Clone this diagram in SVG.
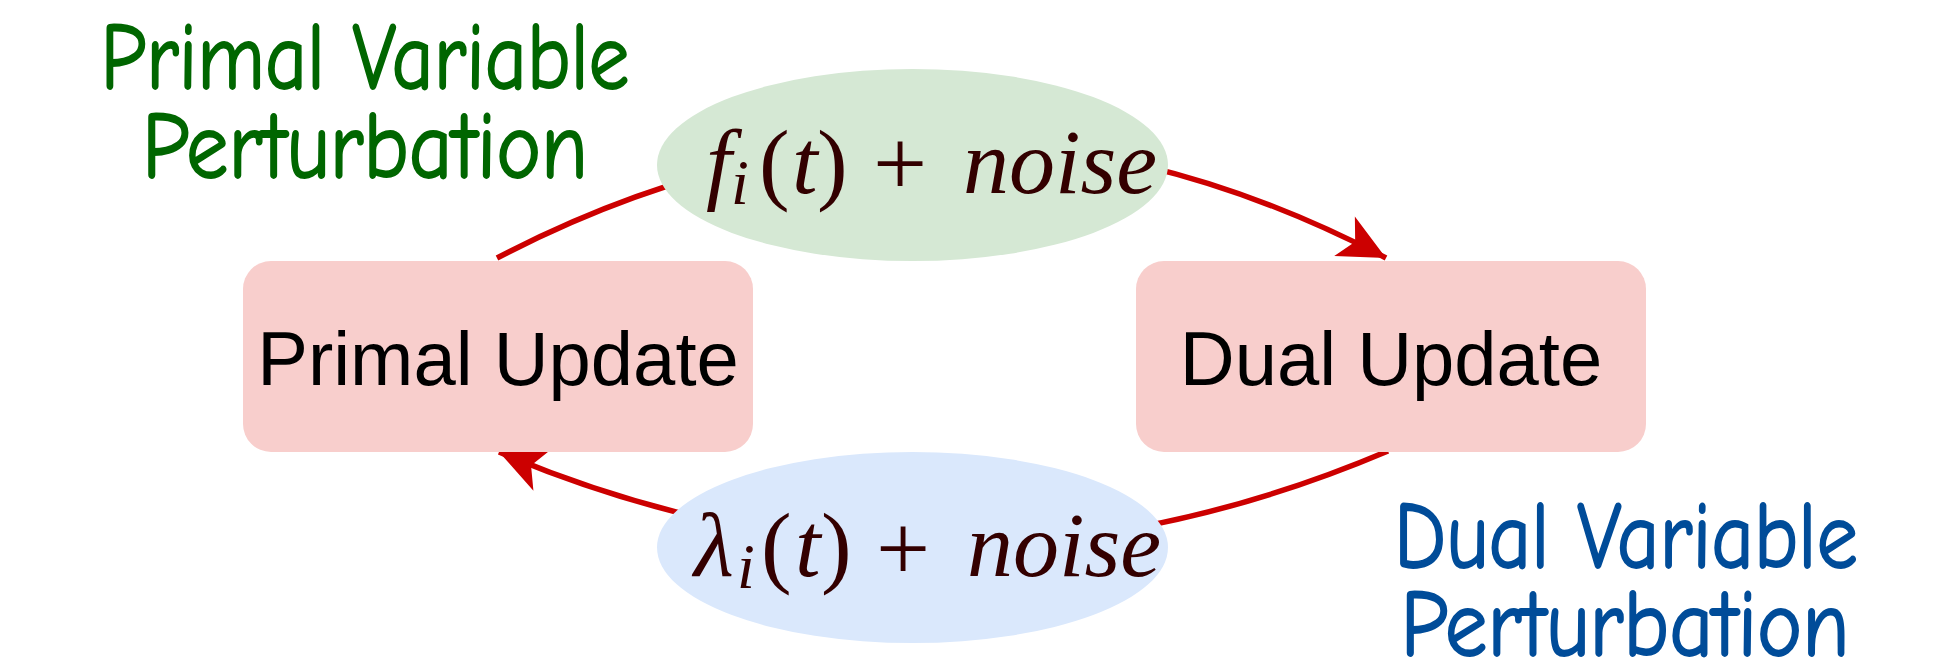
<svg xmlns="http://www.w3.org/2000/svg" width="1943" height="667" viewBox="0 0 1943 667">
<style>
.box{fill:#F8CECC;}
.lbl{font-family:"Liberation Sans",Arial,Helvetica,sans-serif;font-size:76px;fill:#000;text-anchor:middle;}
.math{font-family:"Liberation Serif","Times New Roman",serif;font-size:92px;fill:#330000;}
.it{font-style:italic;}
.sub{font-style:italic;font-size:64px;}
.plus{font-size:96px;}
.edge{fill:none;stroke:#CC0000;stroke-width:5.5;}
.hand{font-family:"Comic Sans MS","Comic Neue","DejaVu Sans Condensed","DejaVu Sans",sans-serif;font-size:96px;text-anchor:middle;stroke-width:1.8;}
</style>
<defs>
<marker id="arr" markerUnits="userSpaceOnUse" markerWidth="60" markerHeight="60" viewBox="-40 -25 45 50" refX="0" refY="0" orient="auto">
<path d="M0,0 L-39,-18.5 L-29,0 L-39,18.5 Z" fill="#CC0000"/>
</marker>
</defs>
<g id="connectors">
<path class="edge" d="M497,258 Q942.5,25.5 1386,258" marker-end="url(#arr)"/>
<path class="edge" d="M1388,451 Q942.5,640 499,452" marker-end="url(#arr)"/>
</g>
<g id="primal-update">
<rect class="box" x="243" y="261" width="510" height="191" rx="28" ry="28"/>
<text class="lbl" x="498" y="385">Primal Update</text>
</g>
<g id="dual-update">
<rect class="box" x="1136" y="261" width="510" height="191" rx="28" ry="28"/>
<text class="lbl" x="1391" y="385">Dual Update</text>
</g>
<g id="primal-noise">
<ellipse cx="912.5" cy="165" rx="255.5" ry="96" fill="#D5E8D4"/>
<text class="math"><tspan class="it" x="706" y="193">f</tspan><tspan class="sub" x="731" y="204">i</tspan><tspan x="759" y="193">(</tspan><tspan class="it" x="792" y="193">t</tspan><tspan x="817" y="193">)</tspan><tspan class="plus" x="873" y="195">+</tspan><tspan class="it" x="963" y="193">noise</tspan></text>
</g>
<g id="dual-noise">
<ellipse cx="912.5" cy="547.5" rx="255.5" ry="95.5" fill="#DAE8FC"/>
<text class="math"><tspan class="it" x="694" y="576">λ</tspan><tspan class="sub" x="737" y="588">i</tspan><tspan x="761" y="576">(</tspan><tspan class="it" x="795" y="576">t</tspan><tspan x="821" y="576">)</tspan><tspan class="plus" x="876" y="580">+</tspan><tspan class="it" x="967" y="576">noise</tspan></text>
</g>
<g id="primal-perturbation-label">
<text class="hand" fill="#006600" stroke="#006600"><tspan x="365" y="89" textLength="529" lengthAdjust="spacingAndGlyphs">Primal Variable</tspan><tspan x="365" y="178" textLength="446" lengthAdjust="spacingAndGlyphs">Perturbation</tspan></text>
</g>
<g id="dual-perturbation-label">
<text class="hand" fill="#004C99" stroke="#004C99"><tspan x="1626" y="568" textLength="464" lengthAdjust="spacingAndGlyphs">Dual Variable</tspan><tspan x="1625" y="656" textLength="449" lengthAdjust="spacingAndGlyphs">Perturbation</tspan></text>
</g>
</svg>
